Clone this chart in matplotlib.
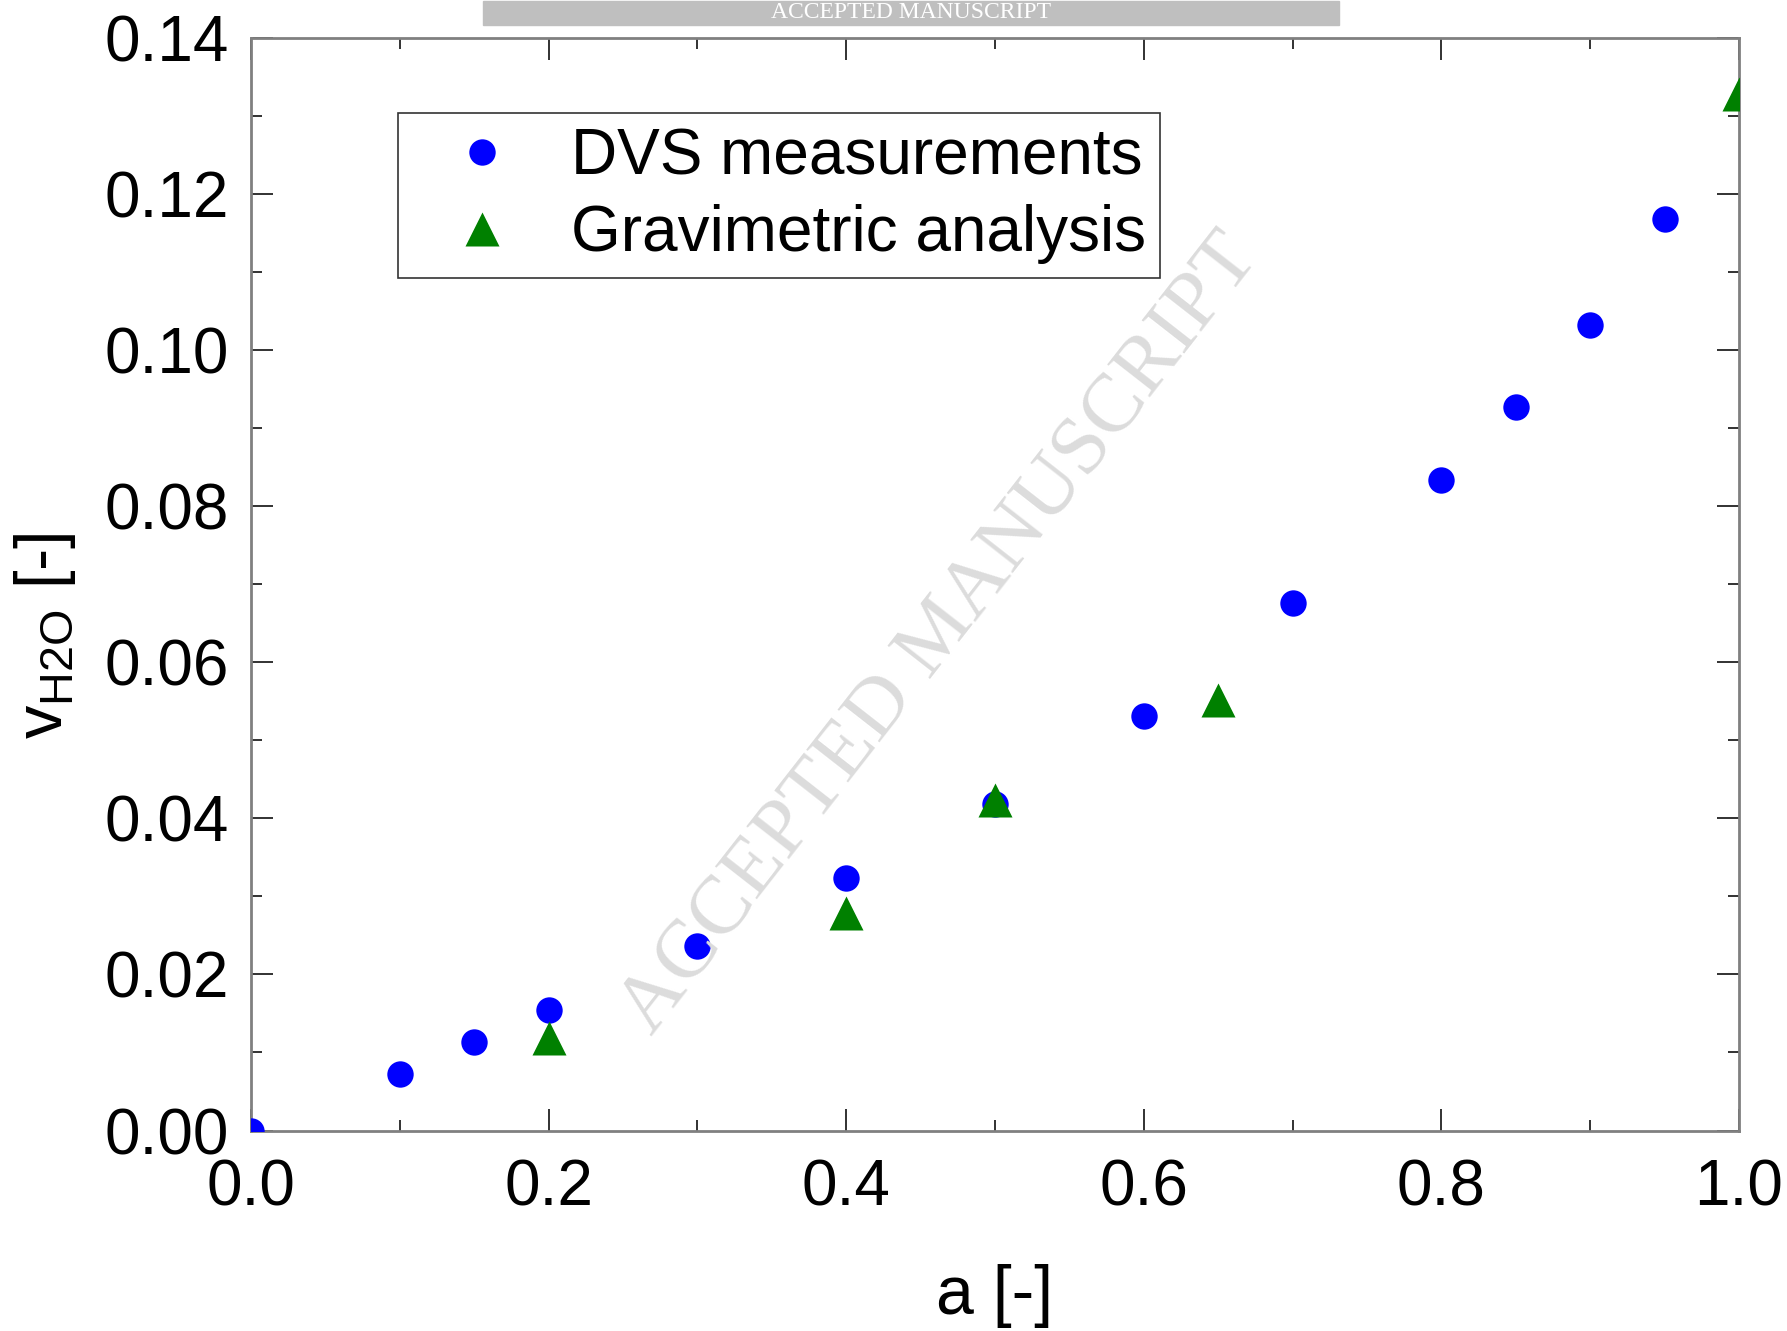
import matplotlib
matplotlib.use("Agg")
import matplotlib.pyplot as plt
from matplotlib.ticker import MultipleLocator, FormatStrFormatter
import matplotlib.patches as mpatches

# Data
dvs_a = [0.0, 0.1, 0.15, 0.2, 0.3, 0.4, 0.5, 0.6, 0.7, 0.8, 0.85, 0.9, 0.95]
dvs_v = [0.0, 0.0072, 0.0114, 0.0155, 0.0236, 0.0324, 0.0418, 0.0531, 0.0676, 0.0834, 0.0927, 0.1032, 0.1168]
grav_a = [0.2, 0.4, 0.5, 0.65, 1.0]
grav_v = [0.0118, 0.0279, 0.0423, 0.0552, 0.1328]

plt.rcParams['font.family'] = ['Liberation Sans', 'DejaVu Sans']

fig = plt.figure(figsize=(17.87, 13.31), dpi=100)
ax = fig.add_axes([0.1405, 0.1506, 0.9731 - 0.1405, 0.9717 - 0.1506])

ax.plot(dvs_a, dvs_v, 'o', color='#0000ff', ms=19, mec='none', label='DVS measurements', zorder=3)
ax.plot(grav_a, grav_v, '^', color='#008000', ms=24, mec='none', label='Gravimetric analysis', zorder=4)

ax.set_xlim(0, 1.0)
ax.set_ylim(0, 0.14)
ax.xaxis.set_major_locator(MultipleLocator(0.2))
ax.xaxis.set_minor_locator(MultipleLocator(0.1))
ax.yaxis.set_major_locator(MultipleLocator(0.02))
ax.yaxis.set_minor_locator(MultipleLocator(0.01))
ax.xaxis.set_major_formatter(FormatStrFormatter('%.1f'))
ax.yaxis.set_major_formatter(FormatStrFormatter('%.2f'))

ax.tick_params(which='both', direction='in', top=True, right=True, colors='#222222', labelcolor='black')
ax.tick_params(which='major', length=16, width=1.3, labelsize=46)
ax.tick_params(axis='y', which='major', pad=16)
ax.tick_params(axis='x', which='major', pad=20)
ax.tick_params(which='minor', length=8, width=1.3)
for s in ax.spines.values():
    s.set_color('#808080')
    s.set_linewidth(2)

ax.set_xlabel('a [-]', fontsize=49)
ax.xaxis.set_label_coords(0.5, -0.122)
ax.set_ylabel(r'v$_{\mathregular{H2O}}$ [-]', fontsize=48)
ax.yaxis.set_label_coords(-0.116, 0.453)

leg = ax.legend(loc='upper left', bbox_to_anchor=(0.0988, 0.931), borderaxespad=0,
                fontsize=46, frameon=True, fancybox=False, edgecolor='black',
                handletextpad=0.29, borderpad=0.22, labelspacing=0.27, handlelength=2.2)
leg.get_frame().set_linewidth(1.2)

# Watermark
fig.text(0.526, 0.523, 'ACCEPTED MANUSCRIPT', rotation=52, color='#dcdcdc',
         fontsize=60, family='Liberation Serif', ha='center', va='center', zorder=0)

# Top banner
fig.patches.append(mpatches.Rectangle((483 / 1787, 1 - 25 / 1331), (1339 - 483) / 1787, 24 / 1331,
                                      transform=fig.transFigure, color='#bfbfbf', zorder=1))
fig.text((483 + 1339) / 2 / 1787, 1 - 13 / 1331, 'ACCEPTED MANUSCRIPT', color='white',
         fontsize=17, family='Liberation Serif', ha='center', va='center', zorder=2)

fig.savefig('out.png', dpi=100)
